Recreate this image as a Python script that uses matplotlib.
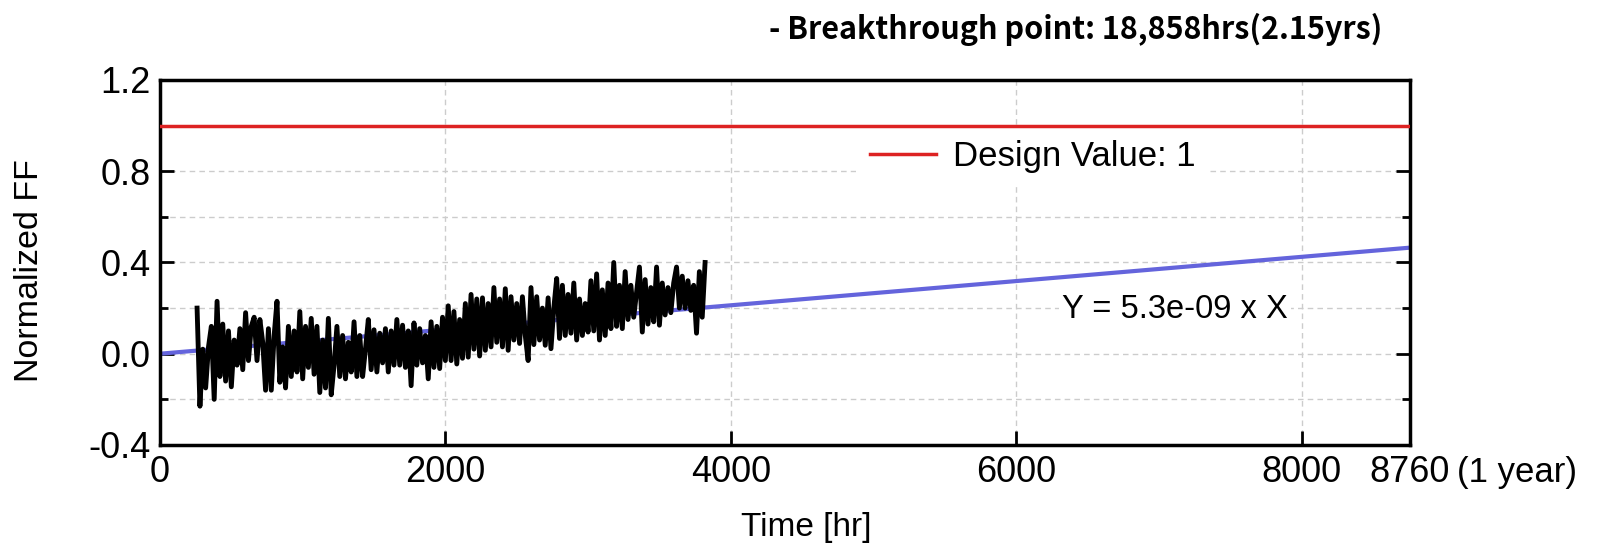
import matplotlib
matplotlib.use("Agg")
import matplotlib.pyplot as plt
import numpy as np
from matplotlib.ticker import MultipleLocator

plt.rcParams['font.family'] = ['Liberation Sans', 'DejaVu Sans']

# measured normalized FF (sampled every 20 hr from 260 hr)
t_start = 260
t_step = 20
ff_values = [
    0.20, -0.23, 0.02, -0.15, 0.03,
    0.12, -0.20, 0.23, -0.10, 0.13,
    -0.12, 0.10, -0.145, 0.06, -0.05,
    0.11, -0.07, 0.18, -0.03, 0.12,
    0.16, -0.03, 0.15, 0.05, -0.16,
    0.11, -0.16, 0.08, 0.23, -0.125,
    0.03, -0.15, 0.12, -0.10, 0.10,
    -0.08, 0.185, -0.11, 0.12, -0.06,
    0.155, -0.09, 0.12, -0.17, 0.06,
    -0.15, 0.155, -0.18, -0.05, 0.12,
    -0.10, 0.08, -0.11, 0.05, -0.08,
    0.14, -0.10, 0.08, -0.10, 0.02,
    0.15, -0.07, 0.105, -0.08, 0.09,
    -0.04, 0.11, -0.08, 0.10, -0.05,
    0.15, -0.05, 0.125, -0.06, 0.10,
    -0.14, 0.135, -0.05, 0.11, -0.04,
    0.08, -0.11, 0.14, -0.06, 0.12,
    -0.065, 0.16, -0.03, 0.21, -0.03,
    0.185, -0.045, 0.15, -0.02, 0.22,
    -0.015, 0.26, 0.02, 0.24, -0.01,
    0.245, 0.015, 0.22, 0.03, 0.29,
    0.05, 0.24, 0.03, 0.285, 0.015,
    0.25, 0.06, 0.22, 0.045, 0.25,
    0.08, -0.03, 0.29, 0.04, 0.25,
    0.06, 0.20, 0.037, 0.245, 0.022,
    0.20, 0.33, 0.067, 0.30, 0.08,
    0.26, 0.09, 0.31, 0.06, 0.24,
    0.08, 0.22, 0.095, 0.32, 0.10,
    0.35, 0.06, 0.28, 0.08, 0.31,
    0.11, 0.40, 0.12, 0.30, 0.11,
    0.36, 0.15, 0.30, 0.16, 0.27,
    0.38, 0.095, 0.325, 0.13, 0.29,
    0.14, 0.38, 0.125, 0.31, 0.17,
    0.29, 0.18, 0.31, 0.38, 0.20,
    0.34, 0.20, 0.32, 0.19, 0.30,
    0.09, 0.36, 0.16, 0.40,
]
ff_time = t_start + t_step * np.arange(len(ff_values))

# linear fit and design value
fit_x = [0, 8760]
fit_y = [0.0, 0.465]
design_x = [0, 8760]
design_y = [1.0, 1.0]

x_ticks = [0, 2000, 4000, 6000, 8000, 8760]
x_ticklabels = ['0', '2000', '4000', '6000', '8000', '8760']

fig = plt.figure(figsize=(16.03, 5.47), dpi=100)
ax = fig.add_axes([0.0998, 0.1865, 0.7798, 0.6673])

ax.plot(fit_x, fit_y, color='#6464dc', lw=3, zorder=2)
ax.plot(ff_time, ff_values, color='black', lw=3.5, zorder=3)
ax.plot(design_x, design_y, color='#dd2222', lw=2.5, zorder=4,
        label='Design Value: 1')

ax.set_xlim(0, 8760)
ax.set_ylim(-0.4, 1.2)
ax.set_xticks(x_ticks)
ax.set_xticklabels(x_ticklabels)
ax.yaxis.set_major_locator(MultipleLocator(0.4))
ax.yaxis.set_minor_locator(MultipleLocator(0.2))
ax.yaxis.set_major_formatter(matplotlib.ticker.FormatStrFormatter('%.1f'))

ax.grid(True, which='both', axis='y', ls=(0, (4, 3)), color='#cccccc', lw=1)
for xv in [2000, 4000, 6000, 8000]:
    ax.axvline(xv, ls=(0, (4, 3)), color='#cccccc', lw=1, zorder=0)
ax.set_axisbelow(True)

ax.tick_params(axis='both', which='major', direction='in', length=10, width=2,
               labelsize=26, pad=7)
ax.tick_params(axis='y', which='both', right=True)
ax.tick_params(axis='y', which='minor', direction='in', length=6, width=2)
for sp in ax.spines.values():
    sp.set_linewidth(2.5)

ax.annotate('(1 year)', xy=(8760, 0), xycoords=('data', 'axes fraction'),
            xytext=(34, -8), textcoords='offset points', ha='left', va='top',
            fontsize=25)

ax.set_xlabel('Time [hr]', fontsize=24, va='center')
ax.xaxis.set_label_coords(0.517, -0.227)
ax.set_ylabel('Normalized FF', fontsize=24.5, va='center')
ax.yaxis.set_label_coords(-0.104, 0.477)

leg = ax.legend(loc='center left', bbox_to_anchor=(0.557, 0.789),
                borderaxespad=0, frameon=True, fancybox=False,
                fontsize=25, handlelength=1.9, handletextpad=0.5)
leg.get_frame().set_edgecolor('none')
leg.get_frame().set_facecolor('white')
leg.get_frame().set_alpha(1)
leg.set_zorder(3.5)

ax.text(0.9024, 0.37, 'Y = 5.3e-09 x X', transform=ax.transAxes,
        ha='right', va='center', fontsize=23.5,
        bbox=dict(facecolor='white', edgecolor='none', pad=2))

fig.text(769 / 1603, 1 - 29 / 547, '- Breakthrough point: 18,858hrs(2.15yrs)',
         fontsize=22, fontweight='bold',
         family=['Noto Sans CJK KR', 'DejaVu Sans'],
         ha='left', va='center')

fig.savefig('out.png', dpi=100)
